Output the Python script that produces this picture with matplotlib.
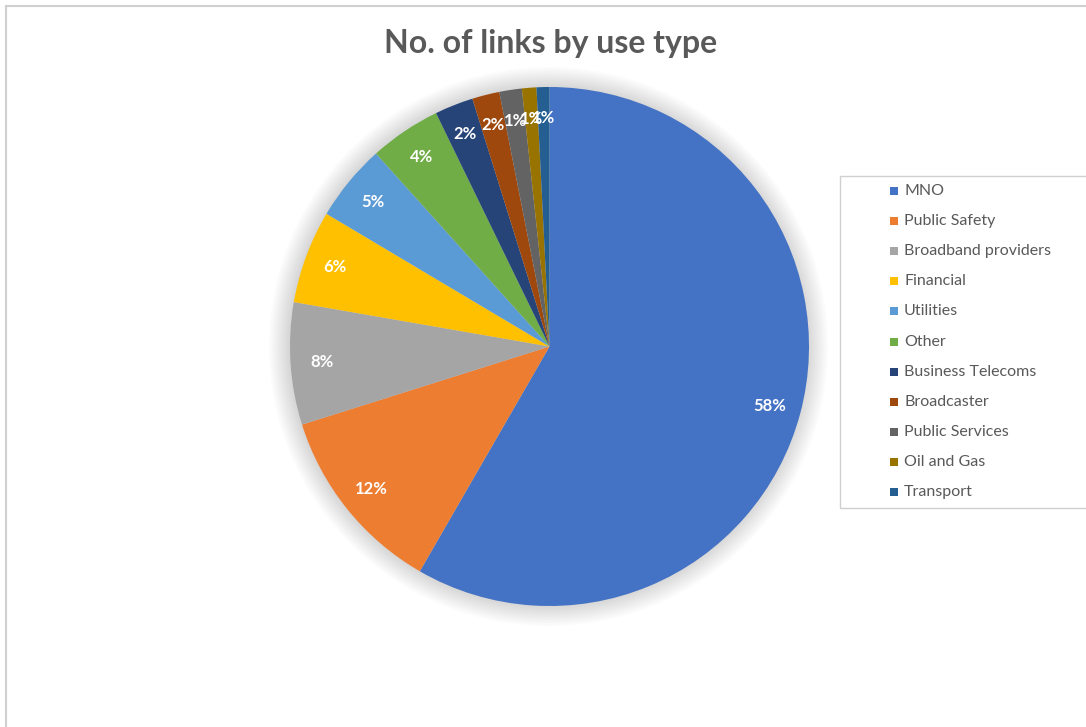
import matplotlib.pyplot as plt
from matplotlib.patches import Rectangle, Circle
from matplotlib.lines import Line2D

# share of links per use type (%)
use_types = ["MNO", "Public Safety", "Broadband providers", "Financial", "Utilities",
             "Other", "Business Telecoms", "Broadcaster", "Public Services",
             "Oil and Gas", "Transport"]
shares = [58.3, 11.8, 7.6, 5.8, 4.8, 4.45, 2.4, 1.7, 1.4, 0.9, 0.8]
colors = ["#4472C4", "#ED7D31", "#A5A5A5", "#FFC000", "#5B9BD5", "#70AD47",
          "#264478", "#9E480E", "#636363", "#997300", "#255E91"]

W, H = 1086, 727
fig = plt.figure(figsize=(W / 100, H / 100), dpi=100)
plt.rcParams['font.family'] = ['Lato', 'DejaVu Sans']

# chart-area border (runs off the right and bottom edges)
fig.add_artist(Line2D([6 / W, 6 / W], [0, 1 - 6 / H], transform=fig.transFigure,
                      color="#D0D0D0", lw=1.5))
fig.add_artist(Line2D([6 / W, 1], [1 - 6 / H, 1 - 6 / H], transform=fig.transFigure,
                      color="#D0D0D0", lw=1.5))

fig.text(551 / W, 1 - 44 / H, "No. of links by use type", ha="center", va="center",
         fontsize=23, fontweight="bold", color="#595959")

cx, cy, r = 549.5, 346.5, 259.5
ax = fig.add_axes([(cx - r) / W, (H - cy - r) / H, 2 * r / W, 2 * r / H])

# soft shadow behind the pie
for k in range(14):
    ax.add_patch(Circle((-0.004, 0.0), 1.0 + k * 0.006, color="black",
                        alpha=0.012, lw=0, zorder=0, clip_on=False))

wedges, texts, autotexts = ax.pie(
    shares, colors=colors, startangle=90, counterclock=False,
    autopct=lambda p: f"{p:.0f}%", pctdistance=0.88,
    textprops=dict(color="white", fontsize=12, fontweight="bold"),
    wedgeprops=dict(linewidth=0))
for w in wedges:
    w.set_zorder(2)
for t in autotexts:
    t.set_zorder(3)
ax.set_xlim(-1, 1)
ax.set_ylim(-1, 1)
ax.axis("off")

# legend box, cut off at the right edge
fig.add_artist(Rectangle((840 / W, 1 - 508 / H), 260 / W, 332 / H,
                         transform=fig.transFigure, fill=False,
                         edgecolor="#D0D0D0", lw=1))
for i, (name, col) in enumerate(zip(use_types, colors)):
    y = 191 + i * 30.1
    fig.add_artist(Rectangle((890 / W, 1 - (y + 4) / H), 8 / W, 8 / H,
                             transform=fig.transFigure, color=col, lw=0))
    fig.text(904 / W, 1 - y / H, name, ha="left", va="center",
             fontsize=11.5, color="#595959")

fig.savefig("out.png", dpi=100)
